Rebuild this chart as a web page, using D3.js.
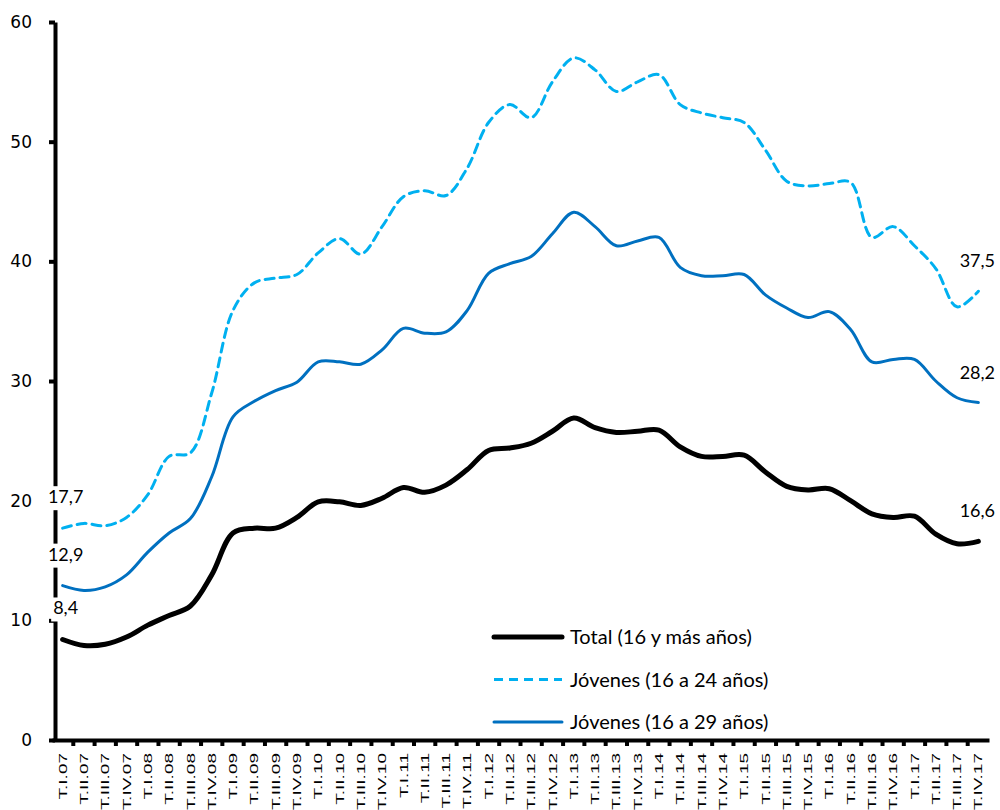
<!DOCTYPE html>
<html>
<head>
<meta charset="utf-8">
<script src="https://cdn.jsdelivr.net/npm/d3@7"></script>
<style>
  body { margin: 0; background: #fff; }
  svg { display: block; }
</style>
</head>
<body>
<svg width="1000" height="810"></svg>
<script>
// Quarters T.I.07 ... T.IV.17
const quarters = [];
["07","08","09","10","11","12","13","14","15","16","17"].forEach(yy => {
    ["I","II","III","IV"].forEach(q => quarters.push(`T.${q}.${yy}`));
});

// Tasa de paro, total (16 y más años)
const total = [
    8.4, 7.9, 8.0, 8.6,
    9.6, 10.4, 11.2, 13.8,
    17.3, 17.7, 17.7, 18.6,
    19.9, 19.9, 19.6, 20.2,
    21.1, 20.7, 21.3, 22.6,
    24.2, 24.4, 24.8, 25.8,
    26.9, 26.1, 25.7, 25.8,
    25.9, 24.5, 23.7, 23.7,
    23.8, 22.4, 21.2, 20.9,
    21.0, 20.0, 18.9, 18.6,
    18.7, 17.2, 16.4, 16.6
];

// Jóvenes (16 a 24 años)
const youth24 = [
    17.7, 18.1, 17.9, 18.6,
    20.5, 23.7, 24.0, 29.0,
    35.9, 38.2, 38.6, 38.9,
    40.7, 41.9, 40.6, 42.9,
    45.4, 45.9, 45.5, 47.8,
    51.6, 53.1, 52.0, 55.0,
    57.0, 56.0, 54.2, 55.0,
    55.6, 53.1, 52.4, 52.0,
    51.6, 49.3, 46.7, 46.3,
    46.5, 46.6, 42.0, 42.9,
    41.3, 39.4, 36.2, 37.5
];

// Jóvenes (16 a 29 años)
const youth29 = [
    12.9, 12.5, 12.8, 13.8,
    15.7, 17.3, 18.5, 22.0,
    27.0, 28.3, 29.2, 29.9,
    31.6, 31.6, 31.4, 32.6,
    34.4, 34.0, 34.1, 35.9,
    39.0, 39.8, 40.4, 42.3,
    44.1, 42.9, 41.3, 41.7,
    42.0, 39.5, 38.8, 38.8,
    38.9, 37.2, 36.1, 35.3,
    35.8, 34.3, 31.6, 31.8,
    31.8, 30.0, 28.6, 28.2
];

const yTicks = [0, 10, 20, 30, 40, 50, 60];

const series = [
    { name: "Total (16 y más años)", values: total, color: "#000000", width: 5, dash: null },
    { name: "Jóvenes (16 a 24 años)", values: youth24, color: "#00B0F0", width: 3, dash: "9,6" },
    { name: "Jóvenes (16 a 29 años)", values: youth29, color: "#0070C0", width: 3, dash: null }
];

const svg = d3.select("svg");

// Scales
const x = d3.scaleBand()
    .domain(quarters)
    .range([52, 989])
    .padding(0);
const cx = d => x(d) + x.bandwidth() / 2;

const y = d3.scaleLinear()
    .domain([0, 60])
    .range([740, 22]);

// Lines
const line = d3.line()
    .x((d, i) => cx(quarters[i]))
    .y(d => y(d))
    .curve(d3.curveCatmullRom.alpha(0.5));

svg.append("g")
    .selectAll("path")
    .data(series)
    .join("path")
    .attr("d", d => line(d.values))
    .attr("fill", "none")
    .attr("stroke", d => d.color)
    .attr("stroke-width", d => d.width)
    .attr("stroke-dasharray", d => d.dash)
    .attr("stroke-linejoin", "round")
    .attr("stroke-linecap", "round");

// Y axis
const yAxis = svg.append("g")
    .attr("transform", "translate(55,0)")
    .call(d3.axisLeft(y).tickValues(yTicks).tickSize(6).tickSizeOuter(0));
yAxis.select(".domain").attr("stroke-width", 4);
yAxis.selectAll(".tick line").attr("stroke-width", 4);
yAxis.selectAll(".tick text")
    .attr("x", -23)
    .attr("font-family", "DejaVu Sans, sans-serif")
    .attr("font-size", 17)
    .attr("fill", "#000");

// X axis
const xAxis = svg.append("g")
    .attr("transform", "translate(0,740)")
    .call(d3.axisBottom(x).tickSize(0).tickSizeOuter(0));
xAxis.select(".domain").attr("stroke-width", 4);
xAxis.selectAll(".tick text")
    .attr("transform", "rotate(-90) scale(1,0.62)")
    .attr("x", -13)
    .attr("y", 0)
    .attr("dy", "0.35em")
    .attr("text-anchor", "end")
    .attr("font-family", "Liberation Sans, Arial, sans-serif")
    .attr("font-size", 19)
    .attr("fill", "#000");

// Tick marks at category boundaries
xAxis.append("g")
    .selectAll("line")
    .data(quarters.slice(1))
    .join("line")
    .attr("x1", d => x(d))
    .attr("x2", d => x(d))
    .attr("y1", 0)
    .attr("y2", 6)
    .attr("stroke", "#000")
    .attr("stroke-width", 4);

// Data labels (first and last points)
const labelFont = "Lato, Open Sans, sans-serif";
const fmt = v => d3.format(".1f")(v).replace(".", ",");
series.forEach(s => {
    const v0 = s.values[0];
    const g = svg.append("g");
    const t = g.append("text")
        .attr("x", cx(quarters[0]) + 3)
        .attr("y", y(v0) - 25)
        .attr("text-anchor", "middle")
        .attr("font-family", labelFont)
        .attr("font-size", 18)
        .attr("fill", "#000")
        .text(fmt(v0));
    const bb = t.node().getBBox();
    g.insert("rect", "text")
        .attr("x", bb.x - 2)
        .attr("y", bb.y + 1)
        .attr("width", bb.width + 4)
        .attr("height", bb.height + 2)
        .attr("fill", "#fff");

    const vn = s.values[s.values.length - 1];
    svg.append("text")
        .attr("x", cx(quarters[quarters.length - 1]) - 1)
        .attr("y", y(vn) - 24)
        .attr("text-anchor", "middle")
        .attr("font-family", labelFont)
        .attr("font-size", 18)
        .attr("fill", "#000")
        .text(fmt(vn));
});

// Legend
const legend = svg.append("g")
    .attr("transform", "translate(494,637)");
const item = legend.selectAll("g")
    .data(series)
    .join("g")
    .attr("transform", (d, i) => `translate(0,${i * 42.5})`);
item.append("line")
    .attr("x1", 0)
    .attr("x2", 68)
    .attr("stroke", d => d.color)
    .attr("stroke-width", d => d.width)
    .attr("stroke-dasharray", d => d.dash)
    .attr("stroke-linecap", d => d.dash ? "butt" : "round");
item.append("text")
    .attr("x", 76)
    .attr("dy", "0.35em")
    .attr("font-family", labelFont)
    .attr("font-size", 20)
    .attr("fill", "#000")
    .text(d => d.name);
</script>
</body>
</html>
